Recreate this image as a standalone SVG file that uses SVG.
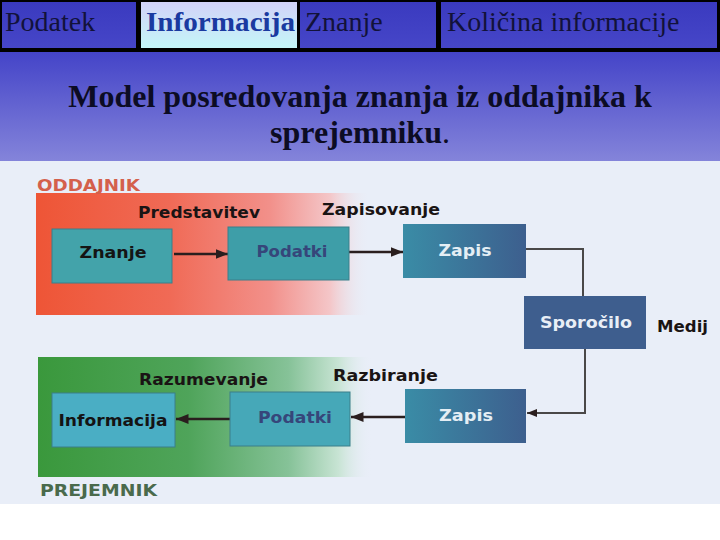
<svg xmlns="http://www.w3.org/2000/svg" width="720" height="540" viewBox="0 0 720 540">
<defs>
<linearGradient id="gTab" x1="0" y1="0" x2="0" y2="1"><stop offset="0" stop-color="#3a3abf"/><stop offset="1" stop-color="#4646c8"/></linearGradient>
<linearGradient id="gTabHi" x1="0" y1="0" x2="0" y2="1"><stop offset="0" stop-color="#d2d2f8"/><stop offset="1" stop-color="#c4f6f8"/></linearGradient>
<linearGradient id="gBlue" x1="0" y1="0" x2="0" y2="1"><stop offset="0" stop-color="#4444c8"/><stop offset="1" stop-color="#8484da"/></linearGradient>
<linearGradient id="gRed" x1="0" y1="0" x2="1" y2="0"><stop offset="0" stop-color="#ee5536"/><stop offset="0.4" stop-color="#f06a56"/><stop offset="0.7" stop-color="#f2908a"/><stop offset="0.88" stop-color="#f4c6c8"/><stop offset="1" stop-color="#e9eef8" stop-opacity="0"/></linearGradient>
<linearGradient id="gGreen" x1="0" y1="0" x2="1" y2="0"><stop offset="0" stop-color="#3a983c"/><stop offset="0.45" stop-color="#4fa45a"/><stop offset="0.75" stop-color="#86c298"/><stop offset="0.9" stop-color="#c8e4d4"/><stop offset="1" stop-color="#e9eef8" stop-opacity="0"/></linearGradient>
<linearGradient id="gZapis" x1="0" y1="0" x2="1" y2="0"><stop offset="0" stop-color="#3a8ca6"/><stop offset="1" stop-color="#3d5f8e"/></linearGradient>
<marker id="ah" viewBox="0 0 10 10" refX="10" refY="5" markerWidth="5" markerHeight="5" orient="auto" markerUnits="strokeWidth"><path d="M0,1 L10,5 L0,9 Z" fill="#2a1e1e"/></marker>
</defs>
<style>
.tab{font-family:"Liberation Serif","Times New Roman",serif;font-size:28px;fill:#12123a}
.title{font-family:"Liberation Serif","Times New Roman",serif;font-size:32px;font-weight:bold;fill:#0c0c24}
.lbl{font-family:"DejaVu Sans",Verdana,sans-serif;font-weight:bold;font-size:15px;fill:#1a1414}
.box{stroke:#3a7f8a;stroke-width:1}
.bt{font-family:"DejaVu Sans",Verdana,sans-serif;font-weight:bold;font-size:15px;text-anchor:middle}
.arr{stroke:#2a1e1e;stroke-width:2.5;fill:none}
.con{stroke:#4a4848;stroke-width:2;fill:none}
</style>
<rect width="720" height="540" fill="#ffffff"/>
<rect x="0" y="0" width="720" height="52" fill="#000000"/>
<g id="tabs">
<rect x="2" y="2" width="134" height="46" fill="url(#gTab)"/>
<rect x="141" y="2" width="156" height="46" fill="url(#gTabHi)"/>
<rect x="300" y="2" width="136" height="46" fill="url(#gTab)"/>
<rect x="441" y="2" width="276" height="46" fill="url(#gTab)"/>
<text class="tab" x="5" y="31">Podatek</text>
<text class="tab" x="146" y="31" style="font-weight:bold;fill:#1a3aa0" textLength="149" lengthAdjust="spacingAndGlyphs">Informacija</text>
<text class="tab" x="305" y="31">Znanje</text>
<text class="tab" x="447" y="31">Količina informacije</text>
</g>
<rect x="0" y="52" width="720" height="109" fill="url(#gBlue)"/>
<g id="title">
<text class="title" x="360" y="107" text-anchor="middle">Model posredovanja znanja iz oddajnika k</text>
<text class="title" x="360" y="143" text-anchor="middle">sprejemniku<tspan style="font-weight:normal">.</tspan></text>
</g>
<rect x="0" y="161" width="720" height="343" fill="#e9eef8"/>
<rect x="36" y="193" width="334" height="122" fill="url(#gRed)"/>
<rect x="38" y="357" width="334" height="120" fill="url(#gGreen)"/>
<g id="labels">
<text class="lbl" x="37" y="191" style="fill:#d4604c;font-size:16px" textLength="103" lengthAdjust="spacingAndGlyphs">ODDAJNIK</text>
<text class="lbl" x="138" y="218" textLength="122" lengthAdjust="spacingAndGlyphs">Predstavitev</text>
<text class="lbl" x="322" y="215" textLength="118" lengthAdjust="spacingAndGlyphs">Zapisovanje</text>
<text class="lbl" x="657" y="332" textLength="51" lengthAdjust="spacingAndGlyphs">Medij</text>
<text class="lbl" x="139" y="385" textLength="129" lengthAdjust="spacingAndGlyphs">Razumevanje</text>
<text class="lbl" x="333" y="381" textLength="105" lengthAdjust="spacingAndGlyphs">Razbiranje</text>
<text class="lbl" x="40" y="496" style="fill:#4a6a4c;font-size:16px" textLength="117" lengthAdjust="spacingAndGlyphs">PREJEMNIK</text>
</g>
<g id="connectors">
<line class="arr" x1="174" y1="254" x2="228" y2="254" marker-end="url(#ah)"/>
<line class="arr" x1="349" y1="252" x2="403" y2="252" marker-end="url(#ah)"/>
<polyline class="con" points="526,249 583,249 583,296"/>
<polyline class="con" points="585,349 585,413 527,413" marker-end="url(#ah)"/>
<line class="arr" x1="405" y1="417" x2="351" y2="417" marker-end="url(#ah)"/>
<line class="arr" x1="230" y1="419" x2="176" y2="419" marker-end="url(#ah)"/>
</g>
<g id="znanje">
<rect class="box" x="52" y="229" width="120" height="54" fill="#43a3aa"/>
<text class="bt" x="113" y="258" fill="#141414" textLength="67" lengthAdjust="spacingAndGlyphs">Znanje</text>
</g>
<g id="podatki-top">
<rect class="box" x="228" y="227" width="121" height="53" fill="#3e9ea8"/>
<text class="bt" x="292" y="257" fill="#36467a" textLength="71" lengthAdjust="spacingAndGlyphs">Podatki</text>
</g>
<g id="zapis-top">
<rect x="403" y="224" width="123" height="54" fill="url(#gZapis)"/>
<text class="bt" x="465" y="256" fill="#e4eef4" textLength="53" lengthAdjust="spacingAndGlyphs">Zapis</text>
</g>
<g id="sporocilo">
<rect x="524" y="296" width="122" height="53" fill="#3e5e8e"/>
<text class="bt" x="586" y="328" fill="#e8eef6" textLength="92" lengthAdjust="spacingAndGlyphs">Sporočilo</text>
</g>
<g id="informacija">
<rect class="box" x="52" y="393" width="123" height="54" fill="#4aaec4" stroke="#4a9ab0"/>
<text class="bt" x="113" y="426" fill="#141414" textLength="109" lengthAdjust="spacingAndGlyphs">Informacija</text>
</g>
<g id="podatki-bottom">
<rect class="box" x="230" y="392" width="120" height="54" fill="#46a8b8"/>
<text class="bt" x="295" y="423" fill="#36467a" textLength="74" lengthAdjust="spacingAndGlyphs">Podatki</text>
</g>
<g id="zapis-bottom">
<rect x="405" y="389" width="121" height="54" fill="url(#gZapis)"/>
<text class="bt" x="466" y="421" fill="#e4eef4" textLength="54" lengthAdjust="spacingAndGlyphs">Zapis</text>
</g>
</svg>
